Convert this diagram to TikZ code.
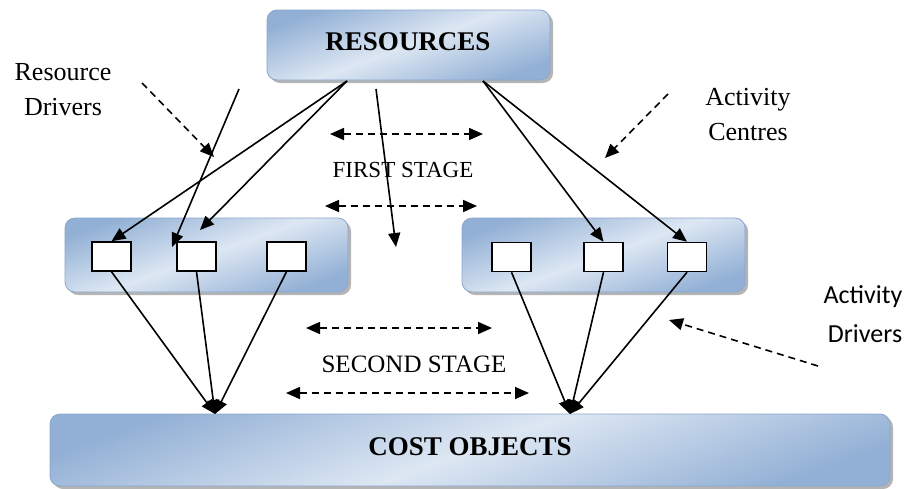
\documentclass[tikz,border=0pt]{standalone}
\usepackage{fontspec}
\setmainfont{Liberation Serif}
\newfontfamily\calibrifont{Carlito}
\usetikzlibrary{arrows.meta,shadows}

\definecolor{boxdark}{RGB}{146,176,213}
\definecolor{boxlight}{RGB}{221,231,243}
\definecolor{boxline}{RGB}{138,166,205}

\begin{document}
\begin{tikzpicture}[x=1pt,y=-1pt,
  panel/.style={rounded corners=10pt, draw=boxline, line width=0.8pt,
    top color=boxdark, bottom color=boxdark, middle color=boxlight,
    shading angle=20, inner sep=0pt,
    drop shadow={shadow xshift=3pt, shadow yshift=-3pt, fill=gray!65, opacity=0.9}},
  cell/.style={draw, fill=white, line width=1.5pt, inner sep=0pt,
    minimum width=39pt, minimum height=29pt},
  arr/.style={-{Triangle[length=14pt,width=12pt]}, line width=1.6pt},
  dasharr/.style={-{Triangle[length=14pt,width=12pt]}, line width=1.6pt,
    dash pattern=on 7pt off 5pt},
  twoway/.style={{Triangle[length=14pt,width=12pt]}-{Triangle[length=14pt,width=12pt]},
    line width=1.7pt, dash pattern=on 7pt off 5pt},
  title/.style={font=\fontsize{27}{30}\selectfont\bfseries, anchor=base, inner sep=0pt},
  note/.style={font=\fontsize{26}{30}\selectfont, anchor=base, inner sep=0pt},
  stage/.style={anchor=base, inner sep=0pt},
  sansnote/.style={font=\calibrifont\fontsize{26}{30}\selectfont, anchor=base, inner sep=0pt}]

\useasboundingbox (0,0) rectangle (909,488);

% panels
\node[panel, minimum width=283pt, minimum height=70pt] (res) at (408.5,45) {};
\node[panel, minimum width=283pt, minimum height=74pt] (lpan) at (206.5,255) {};
\node[panel, minimum width=283pt, minimum height=74pt] (rpan) at (603.5,255) {};
\node[panel, minimum width=840pt, minimum height=72pt] (cost) at (470,450) {};

\node[title] (restext) at (408,50) {RESOURCES};
\node[title] (costtext) at (470,455) {COST OBJECTS};

% activity cells
\node[cell] (l1) at (111.5,256.5) {};
\node[cell] (l2) at (196.5,256.5) {};
\node[cell] (l3) at (286.5,256.5) {};
\node[cell] (r1) at (511.5,257) {};
\node[cell] (r2) at (603.5,257) {};
\node[cell] (r3) at (687,257) {};

% connector end points
\coordinate (resL) at (347,81);
\coordinate (resR) at (483,81);
\coordinate (l2top) at (200,230);
\coordinate (rdStart) at (239,89);
\coordinate (l2side) at (172,247);
\coordinate (midStart) at (376,89);
\coordinate (midEnd) at (396,247);
\coordinate (jL) at (215,414);
\coordinate (jR) at (570,414);

% first stage flows
\draw[arr] (resL) -- (l1.north);
\draw[arr] (resL) -- (l2top);
\draw[arr] (rdStart) -- (l2side);
\draw[arr] (midStart) -- (midEnd);
\draw[arr] (resR) -- (r2.north);
\draw[arr] (resR) -- (r3.north);

% second stage flows
\foreach \c in {l1,l2,l3} \draw[arr] (\c.south) -- (jL);
\foreach \c in {r1,r2,r3} \draw[arr] (\c.south) -- (jR);

% side labels and pointers
\node[note] (rd1) at (63,80) {Resource};
\node[note] (rd2) at (63,115) {Drivers};
\node[note] (ac1) at (748,105) {Activity};
\node[note] (ac2) at (748,140) {Centres};
\node[sansnote] (ad1) at (863,303) {Activity};
\node[sansnote] (ad2) at (865,342) {Drivers};

\coordinate (rdA) at (142,83);  \coordinate (rdB) at (214,157);
\coordinate (acA) at (668,94);  \coordinate (acB) at (605,158);
\coordinate (adA) at (818,366); \coordinate (adB) at (669,320);
\draw[dasharr] (rdA) -- (rdB);
\draw[dasharr] (acA) -- (acB);
\draw[dasharr] (adA) -- (adB);

% stage markers
\coordinate (f1a) at (330,134); \coordinate (f1b) at (483,134);
\coordinate (f2a) at (325,206); \coordinate (f2b) at (477,206);
\coordinate (s1a) at (306,328); \coordinate (s1b) at (492,328);
\coordinate (s2a) at (286,393); \coordinate (s2b) at (529,393);
\draw[twoway] (f1a) -- (f1b);
\draw[twoway] (f2a) -- (f2b);
\draw[twoway] (s1a) -- (s1b);
\draw[twoway] (s2a) -- (s2b);

\node[stage, font=\fontsize{23}{28}\selectfont] (first) at (403,177) {FIRST STAGE};
\node[stage, font=\fontsize{25}{30}\selectfont] (second) at (414,372) {SECOND STAGE};
\end{tikzpicture}
\end{document}
